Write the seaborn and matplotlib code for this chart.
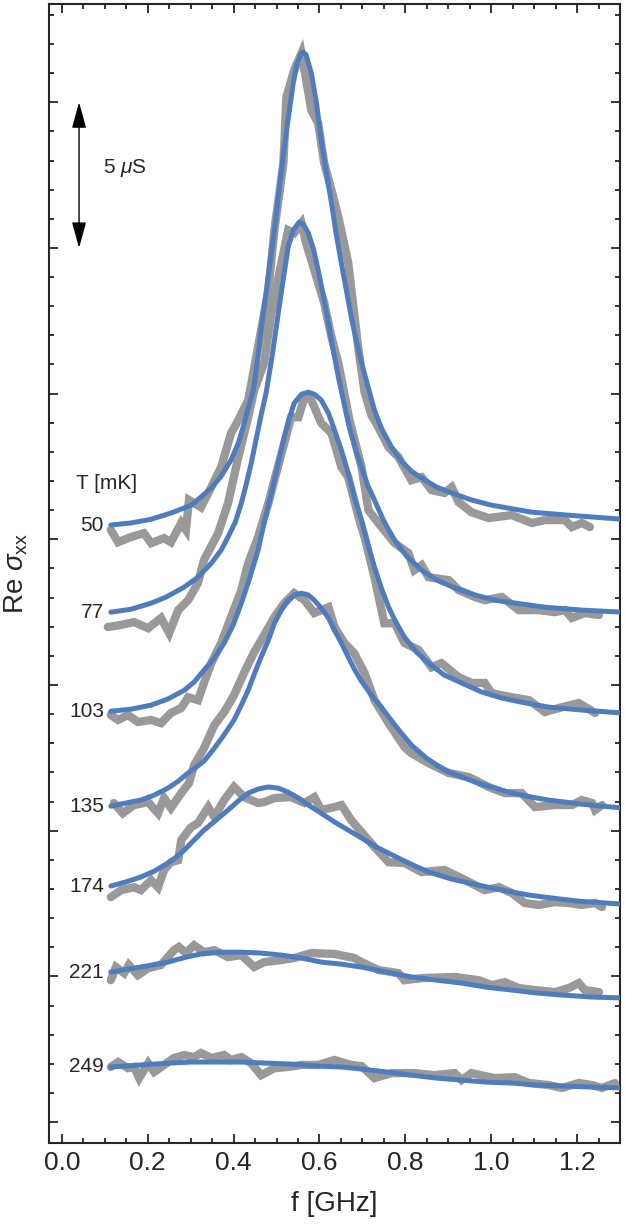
import numpy as np
import pandas as pd
import matplotlib
matplotlib.use("Agg")
import matplotlib.pyplot as plt
from matplotlib.ticker import MultipleLocator
import seaborn as sns

# temperatures of the traces [mK], top to bottom
temps = [50, 77, 103, 135, 174, 221, 249]

# measured traces (offset for clarity), f in GHz, Re sigma in uS
f_50 = [0.114, 0.131, 0.161, 0.191, 0.208, 0.238, 0.254, 0.278, 0.289, 0.296, 0.324, 0.348, 0.371, 0.394,
        0.411, 0.434, 0.457, 0.481, 0.495, 0.516, 0.523, 0.541, 0.558, 0.569, 0.581, 0.597, 0.611, 0.628,
        0.644, 0.667, 0.691, 0.705, 0.721, 0.737, 0.761, 0.784, 0.814, 0.838, 0.861, 0.891, 0.908, 0.924,
        0.954, 0.994, 1.048, 1.095, 1.125, 1.172, 1.188, 1.211, 1.230]
s_50 = [20.32, 19.90, 20.08, 20.21, 19.87, 20.04, 19.90, 20.56, 20.32, 21.35, 21.10, 21.79, 22.48, 23.64,
        24.09, 24.78, 26.60, 28.55, 30.61, 32.91, 35.18, 36.10, 36.68, 35.76, 34.73, 34.28, 32.91, 31.98,
        31.06, 29.48, 26.49, 25.05, 24.26, 23.85, 23.16, 22.82, 22.03, 22.13, 21.69, 21.59, 21.79, 21.28,
        20.93, 20.73, 20.83, 20.56, 20.66, 20.66, 20.42, 20.56, 20.42]

f_77 = [0.107, 0.138, 0.168, 0.201, 0.231, 0.250, 0.271, 0.294, 0.317, 0.331, 0.364, 0.387, 0.411, 0.434,
        0.448, 0.471, 0.488, 0.511, 0.527, 0.541, 0.558, 0.569, 0.588, 0.611, 0.628, 0.644, 0.670, 0.698,
        0.714, 0.737, 0.775, 0.807, 0.821, 0.838, 0.854, 0.901, 0.924, 0.962, 0.985, 1.025, 1.064, 1.111,
        1.148, 1.172, 1.188, 1.218, 1.251]
s_77 = [16.99, 17.06, 17.16, 16.95, 17.30, 16.78, 17.57, 17.91, 18.50, 19.29, 20.21, 21.24, 22.82, 24.19,
        25.12, 26.05, 27.76, 29.48, 30.61, 30.51, 30.85, 30.16, 29.24, 28.11, 26.94, 26.05, 24.09, 22.48,
        21.00, 20.56, 19.87, 19.53, 18.94, 19.11, 18.70, 18.60, 18.26, 18.02, 17.91, 18.02, 17.57, 17.57,
        17.50, 17.57, 17.30, 17.47, 17.40]

f_103 = [0.114, 0.131, 0.154, 0.177, 0.208, 0.231, 0.254, 0.278, 0.294, 0.317, 0.331, 0.348, 0.371, 0.394,
         0.418, 0.434, 0.457, 0.481, 0.495, 0.518, 0.534, 0.551, 0.565, 0.581, 0.604, 0.628, 0.651, 0.667,
         0.691, 0.705, 0.728, 0.751, 0.775, 0.798, 0.831, 0.861, 0.884, 0.924, 0.954, 0.985, 1.001, 1.048,
         1.088, 1.125, 1.165, 1.204, 1.242]
s_103 = [13.97, 13.80, 13.97, 13.73, 13.80, 13.69, 14.04, 14.21, 14.58, 14.48, 15.07, 15.75, 16.44, 17.33,
         18.26, 19.18, 20.08, 21.24, 22.03, 23.30, 24.19, 24.19, 24.88, 24.78, 23.99, 23.64, 22.48, 22.13,
         20.76, 20.08, 18.70, 17.12, 17.12, 16.44, 16.20, 15.61, 15.75, 15.27, 15.07, 15.07, 14.72, 14.58,
         14.48, 14.07, 14.24, 14.38, 14.04]

f_135 = [0.121, 0.142, 0.168, 0.201, 0.224, 0.238, 0.254, 0.278, 0.296, 0.308, 0.331, 0.355, 0.378, 0.401,
         0.425, 0.448, 0.471, 0.495, 0.518, 0.541, 0.565, 0.588, 0.621, 0.635, 0.658, 0.681, 0.705, 0.728,
         0.761, 0.798, 0.814, 0.854, 0.901, 0.948, 0.994, 1.032, 1.071, 1.102, 1.148, 1.188, 1.211, 1.235,
         1.242, 1.258]
s_135 = [10.95, 10.60, 10.88, 10.98, 10.60, 11.12, 10.78, 11.29, 11.63, 12.25, 12.83, 13.62, 14.07, 14.65,
         15.44, 16.13, 16.71, 17.33, 17.81, 18.15, 17.91, 17.47, 17.67, 16.99, 16.44, 16.09, 15.41, 14.48,
         13.69, 12.87, 12.66, 12.32, 11.98, 11.84, 11.50, 11.29, 11.29, 10.81, 10.88, 10.88, 11.05, 10.95,
         10.71, 10.88]

f_174 = [0.114, 0.138, 0.168, 0.184, 0.208, 0.224, 0.238, 0.254, 0.271, 0.278, 0.301, 0.317, 0.341, 0.355,
         0.378, 0.401, 0.425, 0.457, 0.471, 0.495, 0.534, 0.565, 0.588, 0.604, 0.635, 0.651, 0.674, 0.698,
         0.728, 0.761, 0.798, 0.838, 0.891, 0.931, 0.985, 1.018, 1.048, 1.078, 1.111, 1.148, 1.181, 1.211,
         1.242, 1.258]
s_174 = [7.72, 7.96, 8.06, 7.96, 8.30, 8.06, 8.65, 8.92, 8.99, 9.68, 10.12, 10.26, 10.81, 10.47,
         11.05, 11.50, 11.15, 10.95, 10.98, 11.12, 11.15, 10.95, 11.15, 10.71, 10.81, 10.88, 10.36, 9.95,
         9.44, 8.92, 8.89, 8.58, 8.65, 8.37, 7.96, 8.06, 7.86, 7.52, 7.45, 7.55, 7.52, 7.45,
         7.52, 7.38]

f_221 = [0.114, 0.126, 0.145, 0.156, 0.177, 0.201, 0.231, 0.261, 0.273, 0.289, 0.308, 0.331, 0.355, 0.387,
         0.418, 0.448, 0.471, 0.511, 0.541, 0.581, 0.635, 0.681, 0.698, 0.737, 0.784, 0.798, 0.838, 0.915,
         0.971, 1.001, 1.032, 1.064, 1.102, 1.148, 1.181, 1.204, 1.218, 1.251]
s_221 = [4.87, 5.32, 5.11, 5.39, 5.04, 5.28, 5.39, 5.90, 6.01, 5.80, 6.07, 5.83, 5.90, 5.66,
         5.73, 5.32, 5.49, 5.56, 5.63, 5.80, 5.77, 5.63, 5.49, 5.22, 5.11, 4.87, 4.94, 4.98,
         4.87, 4.70, 4.80, 4.60, 4.53, 4.46, 4.60, 4.77, 4.53, 4.46]

f_249 = [0.114, 0.131, 0.154, 0.168, 0.180, 0.201, 0.215, 0.238, 0.261, 0.285, 0.308, 0.324, 0.348, 0.378,
         0.394, 0.418, 0.441, 0.464, 0.495, 0.527, 0.558, 0.597, 0.635, 0.674, 0.698, 0.728, 0.768, 0.821,
         0.868, 0.915, 0.931, 0.954, 1.008, 1.055, 1.088, 1.134, 1.165, 1.204, 1.235, 1.258, 1.288]
s_249 = [1.89, 2.06, 1.85, 1.89, 1.51, 2.02, 1.72, 1.96, 2.20, 2.30, 2.23, 2.37, 2.20, 2.30,
         2.13, 2.23, 2.02, 1.61, 1.85, 1.89, 1.96, 1.96, 2.13, 1.96, 1.92, 1.51, 1.68, 1.68,
         1.61, 1.68, 1.44, 1.68, 1.51, 1.54, 1.34, 1.27, 1.17, 1.34, 1.27, 1.17, 1.34]

# fitted curves
ff_50 = [0.114, 0.161, 0.208, 0.254, 0.301, 0.324, 0.348, 0.371, 0.394, 0.411, 0.425, 0.436, 0.446, 0.455,
         0.464, 0.478, 0.495, 0.506, 0.518, 0.530, 0.539, 0.548, 0.558, 0.562, 0.569, 0.581, 0.593, 0.604,
         0.616, 0.628, 0.639, 0.651, 0.663, 0.674, 0.686, 0.698, 0.714, 0.728, 0.744, 0.768, 0.791, 0.814,
         0.838, 0.873, 0.908, 0.954, 1.001, 1.095, 1.204, 1.305]
fs_50 = [20.49, 20.56, 20.69, 20.90, 21.17, 21.45, 21.76, 22.17, 22.72, 23.30, 23.99, 24.61, 25.12, 26.08,
         27.18, 28.72, 30.61, 31.98, 33.46, 34.73, 35.66, 36.34, 36.68, 36.72, 36.62, 36.00, 34.97, 33.70,
         32.60, 31.54, 30.47, 29.48, 28.52, 27.63, 26.80, 26.05, 25.19, 24.43, 23.82, 23.16, 22.68, 22.34,
         22.10, 21.79, 21.59, 21.35, 21.17, 20.93, 20.80, 20.69]

ff_77 = [0.114, 0.161, 0.208, 0.243, 0.285, 0.317, 0.348, 0.371, 0.387, 0.404, 0.418, 0.429, 0.441, 0.453,
         0.464, 0.476, 0.490, 0.504, 0.516, 0.527, 0.539, 0.553, 0.562, 0.574, 0.586, 0.597, 0.609, 0.621,
         0.632, 0.644, 0.658, 0.670, 0.686, 0.698, 0.712, 0.728, 0.751, 0.775, 0.803, 0.838, 0.873, 0.915,
         0.962, 1.008, 1.071, 1.125, 1.211, 1.305]
fs_77 = [17.50, 17.60, 17.81, 18.02, 18.36, 18.70, 19.18, 19.63, 20.08, 20.59, 21.24, 21.86, 22.61, 23.47,
         24.26, 25.05, 26.32, 27.76, 28.96, 30.03, 30.61, 30.89, 30.82, 30.51, 29.96, 29.24, 28.35, 27.42,
         26.49, 25.57, 24.61, 23.82, 22.99, 22.48, 21.86, 21.35, 20.59, 19.97, 19.42, 18.94, 18.60, 18.33,
         18.09, 17.91, 17.78, 17.67, 17.57, 17.50]

ff_103 = [0.114, 0.161, 0.208, 0.247, 0.285, 0.308, 0.331, 0.355, 0.378, 0.399, 0.418, 0.436, 0.457, 0.471,
          0.488, 0.504, 0.518, 0.530, 0.541, 0.558, 0.574, 0.588, 0.604, 0.621, 0.635, 0.651, 0.667, 0.681,
          0.698, 0.712, 0.728, 0.744, 0.761, 0.779, 0.798, 0.826, 0.854, 0.891, 0.931, 0.978, 1.025, 1.071,
          1.134, 1.211, 1.305]
fs_103 = [14.10, 14.17, 14.31, 14.52, 14.82, 15.10, 15.51, 15.92, 16.44, 17.06, 17.81, 18.60, 19.63, 20.56,
          21.59, 22.61, 23.51, 24.16, 24.67, 24.98, 25.05, 24.98, 24.78, 24.33, 23.75, 23.06, 22.27, 21.45,
          20.66, 19.87, 19.05, 18.33, 17.67, 17.12, 16.64, 16.13, 15.75, 15.34, 15.07, 14.76, 14.55, 14.41,
          14.24, 14.14, 14.04]

ff_135 = [0.114, 0.149, 0.184, 0.215, 0.247, 0.271, 0.294, 0.313, 0.331, 0.352, 0.376, 0.401, 0.418, 0.434,
          0.448, 0.464, 0.481, 0.495, 0.511, 0.527, 0.541, 0.558, 0.574, 0.588, 0.604, 0.621, 0.635, 0.651,
          0.667, 0.681, 0.698, 0.721, 0.744, 0.779, 0.814, 0.849, 0.891, 0.931, 0.971, 1.008, 1.048, 1.095,
          1.134, 1.211, 1.305]
fs_135 = [10.84, 10.95, 11.05, 11.22, 11.46, 11.70, 11.98, 12.18, 12.39, 12.77, 13.25, 13.80, 14.31, 14.82,
          15.37, 15.96, 16.54, 17.12, 17.57, 17.91, 18.09, 18.15, 18.09, 17.91, 17.64, 17.30, 16.88, 16.44,
          15.96, 15.55, 15.13, 14.65, 14.24, 13.56, 12.94, 12.49, 12.08, 11.84, 11.63, 11.46, 11.29, 11.15,
          11.05, 10.91, 10.78]

ff_174 = [0.114, 0.149, 0.184, 0.215, 0.247, 0.266, 0.285, 0.308, 0.331, 0.359, 0.387, 0.411, 0.434, 0.457,
          0.481, 0.504, 0.527, 0.551, 0.574, 0.604, 0.635, 0.667, 0.698, 0.728, 0.761, 0.803, 0.854, 0.908,
          0.971, 1.025, 1.088, 1.141, 1.204, 1.305]
fs_174 = [8.10, 8.24, 8.41, 8.61, 8.89, 9.09, 9.33, 9.68, 10.02, 10.36, 10.71, 11.02, 11.29, 11.43,
          11.50, 11.46, 11.32, 11.12, 10.88, 10.60, 10.30, 10.02, 9.75, 9.47, 9.23, 8.92, 8.58, 8.34,
          8.13, 7.96, 7.79, 7.69, 7.58, 7.48]

ff_221 = [0.114, 0.184, 0.247, 0.289, 0.324, 0.371, 0.418, 0.464, 0.511, 0.558, 0.604, 0.651, 0.698, 0.756,
          0.814, 0.873, 0.931, 0.989, 1.048, 1.106, 1.165, 1.235, 1.305]
fs_221 = [5.15, 5.32, 5.49, 5.66, 5.77, 5.83, 5.83, 5.80, 5.73, 5.63, 5.49, 5.42, 5.32, 5.15,
          4.98, 4.87, 4.77, 4.63, 4.53, 4.43, 4.36, 4.29, 4.26]

ff_249 = [0.114, 0.184, 0.247, 0.301, 0.364, 0.418, 0.481, 0.534, 0.597, 0.651, 0.698, 0.756, 0.814, 0.873,
          0.931, 0.989, 1.048, 1.106, 1.165, 1.235, 1.305]
fs_249 = [1.89, 1.96, 2.02, 2.06, 2.06, 2.06, 2.02, 1.99, 1.92, 1.89, 1.82, 1.72, 1.61, 1.51,
          1.44, 1.37, 1.34, 1.27, 1.24, 1.20, 1.17]

data_f = [f_50, f_77, f_103, f_135, f_174, f_221, f_249]
data_s = [s_50, s_77, s_103, s_135, s_174, s_221, s_249]
fit_f = [ff_50, ff_77, ff_103, ff_135, ff_174, ff_221, ff_249]
fit_s = [fs_50, fs_77, fs_103, fs_135, fs_174, fs_221, fs_249]

sns.set_style('ticks')
plt.rcParams['font.family'] = ['Liberation Sans', 'DejaVu Sans']
plt.rcParams['mathtext.fontset'] = 'custom'
plt.rcParams['mathtext.rm'] = 'Liberation Sans'
plt.rcParams['mathtext.it'] = 'Liberation Sans:italic'
plt.rcParams['axes.linewidth'] = 1.5

gray = '#999999'
blue = '#4f7cbd'

fig, ax = plt.subplots(figsize=(6.25, 12.25), dpi=100)
fig.subplots_adjust(left=0.0784, right=0.992, bottom=0.0669, top=0.9967)

for T, fx, sy in zip(temps, data_f, data_s):
    sns.lineplot(x=fx, y=sy, ax=ax, color=gray, lw=6, sort=False, estimator=None, zorder=2)
    ax.lines[-1].set_solid_joinstyle('miter')

for T, fx, sy in zip(temps, fit_f, fit_s):
    sns.lineplot(x=fx, y=sy, ax=ax, color=blue, lw=3.6, sort=False, estimator=None, zorder=3)
    ax.text(0.098, sy[0], str(T), ha='right', va='center', fontsize=15)

ax.text(0.033, 21.93, 'T [mK]', ha='left', va='center', fontsize=15)

# scale bar
ax.annotate('', xy=(0.04, 35.0), xytext=(0.04, 30.0),
            arrowprops=dict(arrowstyle='<|-|>,head_length=0.8,head_width=0.22',
                            color='black', lw=1.0, mutation_scale=20, shrinkA=0, shrinkB=0))
ax.text(0.096, 32.75, r'5 $\mu$S', ha='left', va='center', fontsize=15)

ax.set_xlim(-0.03, 1.3)
ax.set_ylim(-0.72, 38.37)
ax.xaxis.set_major_locator(MultipleLocator(0.2))
ax.xaxis.set_minor_locator(MultipleLocator(0.05))
ax.yaxis.set_major_locator(MultipleLocator(5))
ax.yaxis.set_minor_locator(MultipleLocator(1))
ax.tick_params(which='both', direction='in', top=True, right=True, width=1.3)
ax.tick_params(which='major', length=6.5, labelsize=19, pad=6)
ax.tick_params(which='minor', length=3.5)
ax.set_yticklabels([])
ax.set_xlabel('f [GHz]', fontsize=20, labelpad=11)
ax.set_ylabel(r'Re $\sigma_{\rm xx}$', fontsize=20, labelpad=8)

fig.savefig('out.png', dpi=100)
